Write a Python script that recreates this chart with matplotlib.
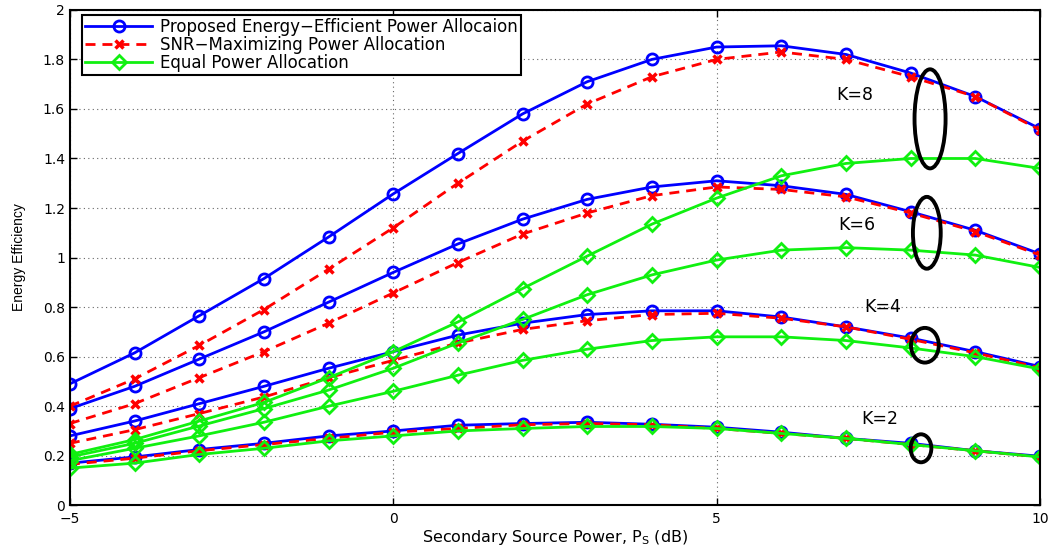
import numpy as np
import matplotlib
matplotlib.use('Agg')
import matplotlib.pyplot as plt
from matplotlib.patches import Ellipse

# secondary source power (dB)
ps_db = np.arange(-5, 11)

# energy efficiency, proposed energy-efficient allocation
ee_prop = {
    8: [0.49, 0.615, 0.765, 0.915, 1.083, 1.257, 1.42, 1.58, 1.71, 1.80, 1.85, 1.855, 1.82, 1.745, 1.65, 1.52],
    6: [0.39, 0.48, 0.59, 0.70, 0.82, 0.94, 1.055, 1.155, 1.235, 1.285, 1.31, 1.29, 1.255, 1.185, 1.11, 1.015],
    4: [0.28, 0.34, 0.41, 0.48, 0.553, 0.62, 0.687, 0.735, 0.77, 0.785, 0.785, 0.76, 0.72, 0.675, 0.62, 0.56],
    2: [0.17, 0.195, 0.225, 0.25, 0.28, 0.30, 0.323, 0.33, 0.335, 0.327, 0.315, 0.295, 0.27, 0.25, 0.22, 0.198],
}
# SNR-maximizing allocation
ee_snr = {
    8: [0.40, 0.51, 0.645, 0.79, 0.953, 1.12, 1.30, 1.47, 1.62, 1.73, 1.80, 1.83, 1.80, 1.73, 1.65, 1.515],
    6: [0.33, 0.41, 0.515, 0.62, 0.735, 0.857, 0.98, 1.095, 1.18, 1.25, 1.285, 1.275, 1.245, 1.18, 1.105, 1.01],
    4: [0.25, 0.305, 0.37, 0.437, 0.515, 0.585, 0.655, 0.71, 0.745, 0.77, 0.775, 0.755, 0.72, 0.67, 0.615, 0.555],
    2: [0.165, 0.19, 0.22, 0.245, 0.27, 0.295, 0.31, 0.325, 0.33, 0.325, 0.31, 0.29, 0.27, 0.245, 0.22, 0.195],
}
# equal power allocation
ee_equal = {
    8: [0.205, 0.265, 0.34, 0.415, 0.515, 0.62, 0.74, 0.875, 1.006, 1.135, 1.24, 1.33, 1.38, 1.40, 1.40, 1.36],
    6: [0.195, 0.25, 0.32, 0.39, 0.465, 0.553, 0.655, 0.75, 0.85, 0.93, 0.99, 1.03, 1.04, 1.03, 1.01, 0.96],
    4: [0.18, 0.23, 0.28, 0.335, 0.40, 0.46, 0.525, 0.585, 0.63, 0.665, 0.68, 0.68, 0.665, 0.635, 0.60, 0.55],
    2: [0.15, 0.17, 0.205, 0.23, 0.26, 0.28, 0.30, 0.31, 0.318, 0.318, 0.31, 0.29, 0.27, 0.245, 0.22, 0.195],
}

k_values = [8, 6, 4, 2]
# label positions and the ellipse marking each group (center x, center y, width, height)
k_label_pos = {8: (7.14, 1.655), 6: (7.17, 1.13), 4: (7.56, 0.80), 2: (7.52, 0.35)}
k_ellipse = {8: (8.30, 1.56, 0.48, 0.40), 6: (8.25, 1.10, 0.43, 0.29),
             4: (8.22, 0.646, 0.43, 0.14), 2: (8.16, 0.23, 0.32, 0.113)}

y_ticks = np.arange(0, 2.01, 0.2)
y_ticklabels = ['0', '0.2', '0.4', '0.6', '0.8', '1', '1.2', '1.4', '1.6', '1.8', '2']
x_ticks = [-5, 0, 5, 10]

plt.rcParams['font.family'] = ['DejaVu Sans']

fig = plt.figure(figsize=(10.58, 5.48), dpi=100)
ax = fig.add_axes([0.066, 0.078, 0.917, 0.904])

blue = '#0000ff'
red = '#ff0000'
green = '#10f010'

for k in k_values:
    ax.plot(ps_db, ee_prop[k], color=blue, lw=2, marker='o', ms=8, mfc='none',
            mew=2, label='Proposed Energy\u2212Efficient Power Allocaion' if k == 8 else None)
for k in k_values:
    ax.plot(ps_db, ee_snr[k], color=red, lw=2, dashes=(3.6, 2.5), marker='x', ms=5.5,
            mew=2.5, label='SNR\u2212Maximizing Power Allocation' if k == 8 else None)
for k in k_values:
    ax.plot(ps_db, ee_equal[k], color=green, lw=2, marker='D', ms=7, mfc='none',
            mew=2, label='Equal Power Allocation' if k == 8 else None)

for k in k_values:
    tx, ty = k_label_pos[k]
    ax.text(tx, ty, 'K=%d' % k, fontsize=12.5, ha='center', va='center')
    cx, cy, w, h = k_ellipse[k]
    ax.add_patch(Ellipse((cx, cy), w, h, fill=False, ec='black', lw=2.8, zorder=5))

ax.set_xlim(-5, 10)
ax.set_ylim(0, 2)
ax.set_xticks(x_ticks)
ax.set_xticklabels(['\u22125', '0', '5', '10'])
ax.set_yticks(y_ticks)
ax.set_yticklabels(y_ticklabels)
ax.tick_params(direction='in', length=5, width=1, top=True, right=True, labelsize=10)
ax.tick_params(axis='x', pad=5)
ax.grid(True, color='0.4', linestyle=(0, (1, 3)), lw=0.8)
for s in ax.spines.values():
    s.set_linewidth(1.5)

ax.set_xlabel('Secondary Source Power, P$_{\\mathregular{S}}$ (dB)', fontsize=11.5, labelpad=1)
ax.set_ylabel('Energy Efficiency', fontsize=10, family=['Liberation Sans', 'DejaVu Sans'],
              labelpad=12)

leg = ax.legend(loc='upper left', bbox_to_anchor=(0.0124, 0.99), borderaxespad=0,
                fontsize=12, numpoints=1, handlelength=4.0, labelspacing=0.0,
                borderpad=0.2, handletextpad=0.5, fancybox=False, framealpha=1)
leg.get_frame().set_edgecolor('black')
leg.get_frame().set_linewidth(1.5)

fig.savefig('out.png', dpi=100)
